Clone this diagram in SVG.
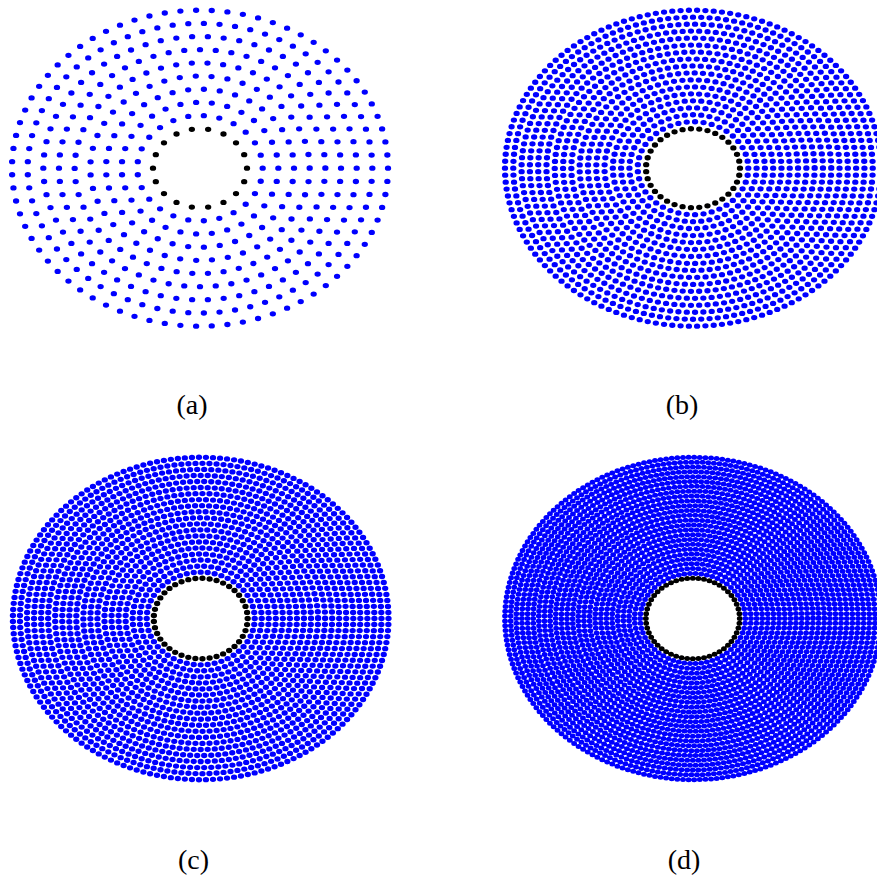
<svg xmlns="http://www.w3.org/2000/svg" width="877" height="885" viewBox="0 0 877 885">
<style>
circle{fill:none;stroke-linecap:round;stroke-dasharray:0 1;stroke-width:5.3}
.b{stroke:#0000ff}
.k{stroke:#000000}
.c circle{stroke-width:5.4}
.d circle{stroke-width:5.0}
text{font-family:"Liberation Serif","Times New Roman",serif;font-size:28px;fill:#000;text-anchor:middle}
</style>
<rect width="877" height="885" fill="#ffffff"/>
<g id="panel-a" transform="translate(200,168.2) scale(1.19,1)">
<circle class="k" r="39.5" pathLength="18"/>
<circle class="b" r="52.67" pathLength="25"/>
<circle class="b" r="65.83" pathLength="31"/>
<circle class="b" r="79" pathLength="37"/>
<circle class="b" r="92.17" pathLength="43"/>
<circle class="b" r="105.33" pathLength="50"/>
<circle class="b" r="118.5" pathLength="56"/>
<circle class="b" r="131.67" pathLength="62"/>
<circle class="b" r="144.83" pathLength="69"/>
<circle class="b" r="158" pathLength="75"/>
</g>
<g id="panel-b" transform="translate(693,168.2) scale(1.19,1)">
<circle class="k" r="39.5" pathLength="35"/>
<circle class="b" r="46.47" pathLength="41"/>
<circle class="b" r="53.44" pathLength="48"/>
<circle class="b" r="60.41" pathLength="54"/>
<circle class="b" r="67.38" pathLength="60"/>
<circle class="b" r="74.35" pathLength="67"/>
<circle class="b" r="81.32" pathLength="73"/>
<circle class="b" r="88.29" pathLength="79"/>
<circle class="b" r="95.26" pathLength="85"/>
<circle class="b" r="102.24" pathLength="92"/>
<circle class="b" r="109.21" pathLength="98"/>
<circle class="b" r="116.18" pathLength="104"/>
<circle class="b" r="123.15" pathLength="111"/>
<circle class="b" r="130.12" pathLength="117"/>
<circle class="b" r="137.09" pathLength="123"/>
<circle class="b" r="144.06" pathLength="129"/>
<circle class="b" r="151.03" pathLength="136"/>
<circle class="b" r="158" pathLength="142"/>
</g>
<g id="panel-c" class="c" transform="translate(200.7,618.5) scale(1.165,1)">
<circle class="k" r="40.3" pathLength="41"/>
<circle class="b" r="46.35" pathLength="48"/>
<circle class="b" r="52.39" pathLength="54"/>
<circle class="b" r="58.44" pathLength="60"/>
<circle class="b" r="64.48" pathLength="67"/>
<circle class="b" r="70.53" pathLength="73"/>
<circle class="b" r="76.57" pathLength="79"/>
<circle class="b" r="82.62" pathLength="85"/>
<circle class="b" r="88.66" pathLength="92"/>
<circle class="b" r="94.71" pathLength="98"/>
<circle class="b" r="100.75" pathLength="104"/>
<circle class="b" r="106.8" pathLength="111"/>
<circle class="b" r="112.84" pathLength="117"/>
<circle class="b" r="118.89" pathLength="123"/>
<circle class="b" r="124.93" pathLength="129"/>
<circle class="b" r="130.98" pathLength="136"/>
<circle class="b" r="137.02" pathLength="142"/>
<circle class="b" r="143.07" pathLength="148"/>
<circle class="b" r="149.11" pathLength="154"/>
<circle class="b" r="155.16" pathLength="161"/>
<circle class="b" r="161.2" pathLength="167"/>
</g>
<g id="panel-d" class="d" transform="translate(692.8,618.5) scale(1.165,1)">
<circle class="k" r="40.3" pathLength="52"/>
<circle class="b" r="45.14" pathLength="58"/>
<circle class="b" r="49.97" pathLength="64"/>
<circle class="b" r="54.81" pathLength="71"/>
<circle class="b" r="59.64" pathLength="77"/>
<circle class="b" r="64.48" pathLength="83"/>
<circle class="b" r="69.32" pathLength="90"/>
<circle class="b" r="74.15" pathLength="96"/>
<circle class="b" r="78.99" pathLength="102"/>
<circle class="b" r="83.82" pathLength="108"/>
<circle class="b" r="88.66" pathLength="115"/>
<circle class="b" r="93.5" pathLength="121"/>
<circle class="b" r="98.33" pathLength="127"/>
<circle class="b" r="103.17" pathLength="134"/>
<circle class="b" r="108" pathLength="140"/>
<circle class="b" r="112.84" pathLength="146"/>
<circle class="b" r="117.68" pathLength="152"/>
<circle class="b" r="122.51" pathLength="159"/>
<circle class="b" r="127.35" pathLength="165"/>
<circle class="b" r="132.18" pathLength="171"/>
<circle class="b" r="137.02" pathLength="178"/>
<circle class="b" r="141.86" pathLength="184"/>
<circle class="b" r="146.69" pathLength="190"/>
<circle class="b" r="151.53" pathLength="196"/>
<circle class="b" r="156.36" pathLength="203"/>
<circle class="b" r="161.2" pathLength="209"/>
</g>
<g id="labels">
<text x="192" y="414">(a)</text>
<text x="682" y="414">(b)</text>
<text x="193.5" y="869">(c)</text>
<text x="684" y="869">(d)</text>
</g>
</svg>
